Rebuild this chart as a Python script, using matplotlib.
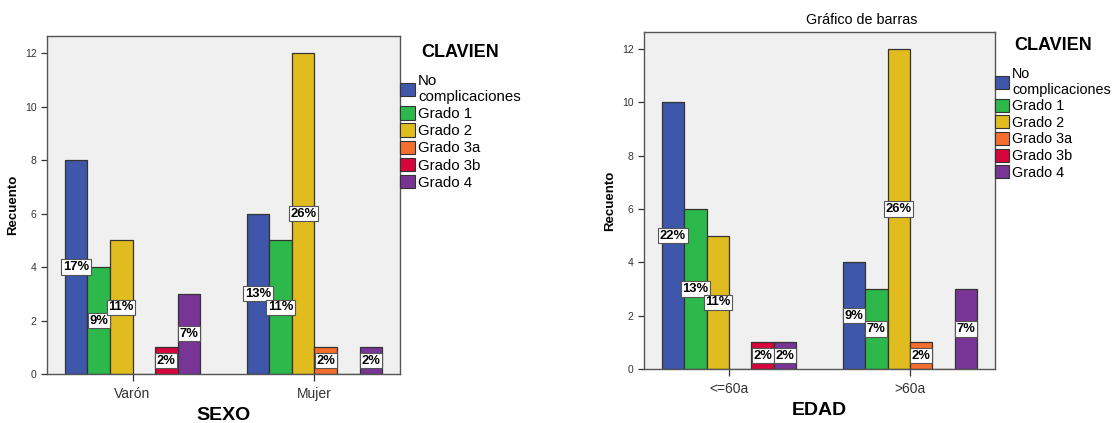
import matplotlib
matplotlib.use("Agg")
import matplotlib.pyplot as plt
import numpy as np

plt.rcParams['font.family'] = ['Liberation Sans', 'DejaVu Sans']

clavien = ["No\ncomplicaciones", "Grado 1", "Grado 2", "Grado 3a", "Grado 3b", "Grado 4"]
colors = ["#3E57AB", "#2CB84A", "#E1BC1E", "#F46E2E", "#D6053B", "#793595"]

sexo_cats = ["Varón", "Mujer"]
sexo_counts = {
    "No\ncomplicaciones": [8, 6],
    "Grado 1": [4, 5],
    "Grado 2": [5, 12],
    "Grado 3a": [0, 1],
    "Grado 3b": [1, 0],
    "Grado 4": [3, 1],
}
sexo_pct = {
    "No\ncomplicaciones": ["17%", "13%"],
    "Grado 1": ["9%", "11%"],
    "Grado 2": ["11%", "26%"],
    "Grado 3a": ["", "2%"],
    "Grado 3b": ["2%", ""],
    "Grado 4": ["7%", "2%"],
}

edad_cats = ["<=60a", ">60a"]
edad_counts = {
    "No\ncomplicaciones": [10, 4],
    "Grado 1": [6, 3],
    "Grado 2": [5, 12],
    "Grado 3a": [0, 1],
    "Grado 3b": [1, 0],
    "Grado 4": [1, 3],
}
edad_pct = {
    "No\ncomplicaciones": ["22%", "9%"],
    "Grado 1": ["13%", "7%"],
    "Grado 2": ["11%", "26%"],
    "Grado 3a": ["", "2%"],
    "Grado 3b": ["2%", ""],
    "Grado 4": ["2%", "7%"],
}

yticks = [0, 2, 4, 6, 8, 10, 12]

fig = plt.figure(figsize=(11.15, 4.23), dpi=100)
W, H = 1115, 423

def make_axes(l, t, r, b):
    return fig.add_axes([l / W, 1 - b / H, (r - l) / W, (b - t) / H])

def draw(ax, cats, counts, pcts, xlabel, legfs, leg_y):
    ax.set_facecolor("#F0F0F0")
    n = len(clavien)
    bw = 0.124
    x = np.arange(len(cats))
    for i, c in enumerate(clavien):
        off = (i - (n - 1) / 2) * bw
        vals = counts[c]
        ax.bar(x + off, vals, width=bw, color=colors[i], edgecolor="#333333",
               linewidth=0.9, label=c, zorder=2)
        for j, v in enumerate(vals):
            lab = pcts[c][j]
            if lab:
                ax.text(x[j] + off, v / 2, lab, ha="center", va="center",
                        fontsize=9.4, fontweight="bold", color="black", zorder=4,
                        bbox=dict(boxstyle="square,pad=0.12", fc="white",
                                  ec="#555555", lw=0.8))
    ax.set_xlim(-0.47, 1.47)
    ax.set_ylim(0, 12.64)
    ax.set_xticks(x)
    ax.set_xticklabels(cats, fontsize=10, color="#333333")
    ax.set_yticks(yticks)
    ax.set_yticklabels([str(v) for v in yticks], fontsize=7.5, color="#333333")
    ax.tick_params(axis="both", direction="out", length=4, width=0.9, color="#333333")
    ax.tick_params(axis="x", length=5, pad=4)
    for s in ax.spines.values():
        s.set_color("#555555")
        s.set_linewidth(1.0)
    ax.set_xlabel(xlabel, fontsize=14, fontweight="bold", labelpad=5)
    ax.set_ylabel("Recuento", fontsize=9.5, fontweight="bold", labelpad=4)
    leg = ax.legend(loc="upper left", bbox_to_anchor=(1.0, leg_y), frameon=False,
                    borderaxespad=0.0, borderpad=0.0, handlelength=1.0, handleheight=1.0,
                    handletextpad=0.2, labelspacing=0.15, fontsize=legfs,
                    title="CLAVIEN", title_fontproperties={"weight": "bold", "size": 13})
    leg._legend_box.align = "center"
    leg._legend_box.sep = 9
    for h in leg.legend_handles:
        h.set_edgecolor("#333333")
        h.set_linewidth(0.8)

ax1 = make_axes(47, 36, 400, 374)
draw(ax1, sexo_cats, sexo_counts, sexo_pct, "SEXO", 10.8, 0.975)
ax2 = make_axes(644, 32, 995, 369)
draw(ax2, edad_cats, edad_counts, edad_pct, "EDAD", 10.4, 0.985)
fig.text(862 / W, 1 - 20 / H, "Gráfico de barras", ha="center", va="center", fontsize=10.3)

fig.savefig("out.png", dpi=100)
